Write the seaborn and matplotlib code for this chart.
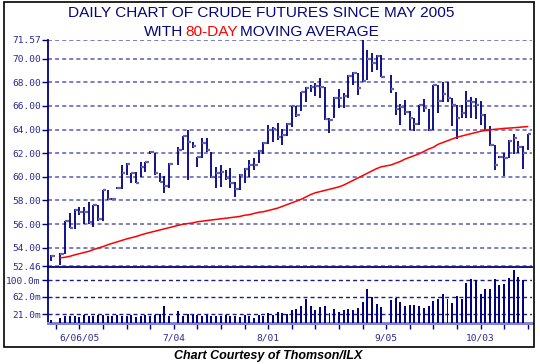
import numpy as np
import pandas as pd
import matplotlib
matplotlib.use("Agg")
import matplotlib.pyplot as plt
import seaborn as sns
from matplotlib.patches import Rectangle

# ---------------- data ----------------
first_day = "2005-05-27"
last_day = "2005-10-17"
holidays = ["2005-05-30", "2005-07-04", "2005-09-05"]

high = [53.40, 53.55, 56.25, 56.95, 57.25, 57.45, 57.45, 57.90, 57.65, 57.65,
        58.90, 58.90, 58.20, 59.10, 61.00, 61.15, 60.35, 60.45, 61.25, 61.25,
        62.22, 62.00, 60.30, 60.05, 61.15,
        62.55, 63.46, 63.96, 62.98, 61.71, 63.26, 63.26, 62.13, 60.81, 61.00,
        60.58, 60.72, 59.60, 60.22, 60.72, 61.43, 61.57, 62.27, 62.98, 64.39,
        64.25, 64.53, 64.02, 64.53, 65.99, 65.99, 67.14, 67.62, 67.80, 67.90,
        68.35, 67.62, 64.95, 66.78, 67.42, 67.06, 68.61, 68.89, 68.75, 71.57,
        70.70, 70.44, 70.30, 70.30,
        68.61, 67.20, 66.15, 66.47, 65.60, 64.95, 66.10, 66.55, 65.70, 67.76,
        67.76, 68.04, 68.00, 66.63, 66.10, 66.10, 67.25, 66.78, 66.70, 66.45,
        65.30, 64.30, 62.65, 61.75, 61.99, 63.10, 63.60, 63.00, 62.62, 63.65]

low = [52.90, 52.55, 53.50, 55.65, 55.55, 56.75, 56.05, 56.00, 55.75, 56.30,
       56.30, 58.00, 58.00, 58.95, 59.00, 60.15, 59.45, 59.45, 60.00, 60.45,
       61.95, 60.15, 59.55, 58.60, 59.03,
       61.00, 62.27, 59.74, 62.40, 60.81, 61.57, 62.13, 59.88, 59.03, 59.17,
       59.74, 59.03, 58.33, 58.89, 59.46, 60.02, 60.58, 61.15, 61.94, 62.78,
       62.98, 63.12, 62.70, 63.45, 64.20, 65.09, 65.57, 66.36, 67.20, 66.80,
       66.70, 64.81, 63.68, 64.95, 65.79, 65.79, 66.64, 67.76, 66.92, 68.05,
       68.19, 68.89, 69.03, 68.47,
       67.10, 65.23, 64.38, 65.23, 63.96, 63.90, 64.38, 65.50, 63.90, 64.00,
       65.37, 66.30, 66.35, 64.30, 63.20, 65.00, 65.00, 64.94, 64.85, 64.40,
       63.90, 62.60, 60.58, 61.55, 60.07, 61.56, 61.90, 61.99, 60.63, 62.30]

close = [53.30, 53.50, 56.25, 55.70, 57.22, 57.00, 57.00, 56.20, 57.62, 56.40,
         58.90, 58.10, 58.12, 59.03, 60.30, 61.05, 60.30, 59.50, 60.80, 61.22,
         62.12, 60.30, 59.60, 59.20, 61.10,
         62.27, 63.46, 62.98, 62.60, 61.65, 62.84, 62.27, 60.02, 60.36, 60.44,
         59.88, 59.51, 58.95, 60.16, 60.64, 61.00, 61.00, 62.22, 62.89, 63.96,
         64.02, 63.40, 63.54, 64.47, 65.99, 65.23, 67.14, 67.54, 67.62, 67.72,
         67.62, 64.92, 64.80, 66.69, 66.69, 66.83, 68.55, 68.75, 67.48, 68.10,
         69.96, 69.59, 70.24, 68.47,
         67.40, 65.72, 65.93, 65.45, 65.00, 64.50, 66.05, 65.79, 63.95, 67.76,
         66.40, 67.00, 66.63, 66.10, 65.00, 65.37, 66.45, 66.30, 66.10, 65.27,
         63.96, 62.65, 61.00, 61.65, 61.56, 63.06, 63.30, 62.55, 62.00, 63.65]

ma80 = [np.nan, 53.15, 53.20, 53.28, 53.40, 53.50, 53.60, 53.70, 53.85, 53.98,
        54.10, 54.25, 54.38, 54.50, 54.62, 54.75, 54.85, 54.95, 55.08, 55.20,
        55.30, 55.40, 55.50, 55.60, 55.70,
        55.90, 56.00, 56.05, 56.10, 56.20, 56.25, 56.30, 56.35, 56.40, 56.45,
        56.50, 56.55, 56.60, 56.65, 56.75, 56.80, 56.90, 57.00, 57.05, 57.15,
        57.25, 57.35, 57.50, 57.65, 57.80, 57.95, 58.10, 58.30, 58.50, 58.65,
        58.75, 58.85, 58.95, 59.05, 59.15, 59.30, 59.50, 59.70, 59.90, 60.10,
        60.30, 60.50, 60.70, 60.85,
        61.00, 61.15, 61.30, 61.50, 61.65, 61.80, 61.95, 62.15, 62.35, 62.50,
        62.75, 62.90, 63.05, 63.20, 63.35, 63.45, 63.55, 63.65, 63.75, 63.85,
        63.92, 63.97, 64.02, 64.05, 64.10, 64.12, 64.15, 64.18, 64.22, 64.25]

volume = [7, 12, 17, 16, 18, 15, 19, 18, 16, 19,
          20, 17, 16, 19, 18, 16, 19, 15, 17, 19,
          16, 20, 21, 40, 18,
          28, 17, 22, 19, 20, 17, 19, 16, 18, 17,
          19, 16, 18, 15, 19, 17, 13, 20, 18, 23,
          20, 26, 24, 22.5, 30.3, 32.6, 40.4, 57.4, 40.4, 30.3,
          38.0, 40.4, 24.9, 34.2, 26.4, 30.3, 34.2, 30.3, 35.7, 49.7,
          79.1, 61.3, 44.2, 38.0,
          53.5, 59.0, 49.7, 40.4, 41.9, 41.9, 39.6, 35.7, 40.4, 51.2,
          55.9, 69.0, 57.4, 48.1, 63.6, 57.4, 94.6, 103.9, 100.0, 69.0,
          79.1, 79.1, 103.9, 89.9, 92.3, 105.4, 123.2, 107.7, 100.0, np.nan]

price_ticks = [52.46, 54.00, 56.00, 58.00, 60.00, 62.00, 64.00, 66.00, 68.00, 70.00, 71.57]
price_labels = ["52.46", "54.00", "56.00", "58.00", "60.00", "62.00", "64.00",
                "66.00", "68.00", "70.00", "71.57"]
vol_ticks = [21.0, 62.0, 100.0]
vol_labels = ["21.0m", "62.0m", "100.0m"]
date_ticks = ["2005-06-06", "2005-07-04", "2005-08-01", "2005-09-05", "2005-10-03"]
date_labels = ["6/06/05", "7/04", "8/01", "9/05", "10/03"]

title1 = "DAILY CHART OF CRUDE FUTURES SINCE MAY 2005"
title2_parts = ["WITH", "80-DAY", "MOVING AVERAGE"]
caption = "Chart Courtesy of Thomson/ILX"

# ---------------- style ----------------
sns.set_theme(style="white")
plt.rcParams['font.family'] = ['Liberation Sans', 'DejaVu Sans']
plt.rcParams['lines.scale_dashes'] = False

NAVY = "#000080"
TITLEC = "#06067a"
GRID_P = "#7474bc"
GRID_V = "#1c1c8c"
TICKC = "#6464b0"
RED = "#ff0000"
TFS = 11.1
TFW = "normal"

slots = pd.bdate_range(first_day, last_day)
trade_days = slots[~slots.isin(pd.to_datetime(holidays))]
pos = slots.get_indexer(trade_days)
df = pd.DataFrame({"pos": pos, "high": high, "low": low, "close": close,
                   "ma": ma80, "volume": volume})

W, H = 540, 364
fig = plt.figure(figsize=(W / 100, H / 100), dpi=100)
fig.patch.set_facecolor("white")


def rect(x0, y0, x1, y1):
    return [x0 / W, 1 - y1 / H, (x1 - x0) / W, (y1 - y0) / H]


axp = fig.add_axes(rect(48.3, 40, 532, 266))
axv = fig.add_axes(rect(48.3, 267.3, 532, 323))
for ax in (axp, axv):
    ax.set_facecolor("white")
    ax.set_xlim(-0.57, 101.9)

# ---- price panel ----
axp.set_ylim(52.46, 71.57)
for v in price_ticks:
    axp.axhline(v, color=GRID_P, lw=1.3, dashes=(2.9, 2.2), zorder=1)
axp.vlines(df["pos"], df["low"], df["high"], color=NAVY, lw=1.3, zorder=3)
axp.hlines(df["close"], df["pos"], df["pos"] + 0.75, color=TICKC, lw=1.6, zorder=3)
sns.lineplot(data=df.dropna(subset=["ma"]), x="pos", y="ma", ax=axp,
             color=RED, lw=1.1, zorder=4)
axp.set_xlabel("")
axp.set_ylabel("")
axp.set_yticks(price_ticks, price_labels)
axp.set_xticks([])
axp.tick_params(axis="y", direction="out", length=4.5, width=1, color=NAVY,
                labelsize=6.8, labelcolor="#2a2a90", pad=1, left=True)
for lbl in axp.get_yticklabels():
    lbl.set_family("DejaVu Sans Mono")
for s in ["top", "right", "bottom"]:
    axp.spines[s].set_visible(False)
axp.spines["left"].set_color(NAVY)
axp.spines["left"].set_linewidth(1.3)

# ---- volume panel ----
axv.set_ylim(0.8, 130.2)
for v in vol_ticks:
    axv.axhline(v, color=GRID_V, lw=1.0, dashes=(2.9, 2.2), zorder=1)
sns.barplot(data=df.dropna(subset=["volume"]), x="pos", y="volume", ax=axv,
            native_scale=True, color=NAVY, saturation=1, width=0.42,
            errorbar=None, linewidth=0, zorder=3)
axv.set_xlim(-0.57, 101.9)
axv.set_ylim(0.8, 130.2)
axv.set_xlabel("")
axv.set_ylabel("")
axv.set_yticks(vol_ticks, vol_labels)
mondays = np.where(slots.weekday == 0)[0]
label_pos = {slots.get_loc(pd.Timestamp(d)): l for d, l in zip(date_ticks, date_labels)}
axv.set_xticks(mondays, [label_pos.get(m, "") for m in mondays])
axv.tick_params(axis="y", direction="out", length=4.5, width=1, color=NAVY,
                labelsize=6.8, labelcolor="#2a2a90", pad=1, left=True)
axv.tick_params(axis="x", direction="out", length=4.5, width=1, color=NAVY,
                labelsize=6.8, labelcolor="#2a2a90", pad=3, bottom=True)
for lbl in axv.get_yticklabels() + axv.get_xticklabels():
    lbl.set_family("DejaVu Sans Mono")
axv.spines["right"].set_visible(False)
axv.spines["left"].set_color(NAVY)
axv.spines["left"].set_linewidth(1.3)
axv.spines["top"].set_color(NAVY)
axv.spines["top"].set_linewidth(1.3)
axv.spines["bottom"].set_color("#8484c8")
axv.spines["bottom"].set_linewidth(2.2)

# ---- titles ----
fig.text(261.5 / W, 1 - 13 / H, title1, ha="center", va="center",
         fontsize=TFS, fontweight=TFW, color=TITLEC)
renderer = fig.canvas.get_renderer()
colors2 = [TITLEC, RED, TITLEC]
tmp = [fig.text(0, 0, s, fontsize=TFS, fontweight=TFW) for s in title2_parts]
tmp.append(fig.text(0, 0, "A A", fontsize=TFS, fontweight=TFW))
tmp.append(fig.text(0, 0, "AA", fontsize=TFS, fontweight=TFW))
ext = [t.get_window_extent(renderer).width for t in tmp]
for t in tmp:
    t.remove()
widths = ext[:3]
space = ext[3] - ext[4]
total = sum(widths) + space * (len(widths) - 1)
x = 261.5 - total / 2
for s, c, w in zip(title2_parts, colors2, widths):
    fig.text(x / W, 1 - 32 / H, s, ha="left", va="center", fontsize=TFS,
             fontweight=TFW, color=c)
    x += w + space

fig.text(268 / W, 1 - 356 / H, caption, ha="center", va="center",
         fontsize=9, fontweight="bold", fontstyle="italic", color="black")

fig.add_artist(Rectangle((4 / W, 1 - 347 / H), 530 / W, 345.5 / H,
                         transform=fig.transFigure, fill=False,
                         edgecolor="black", lw=1.2))

fig.savefig("out.png", dpi=100)
